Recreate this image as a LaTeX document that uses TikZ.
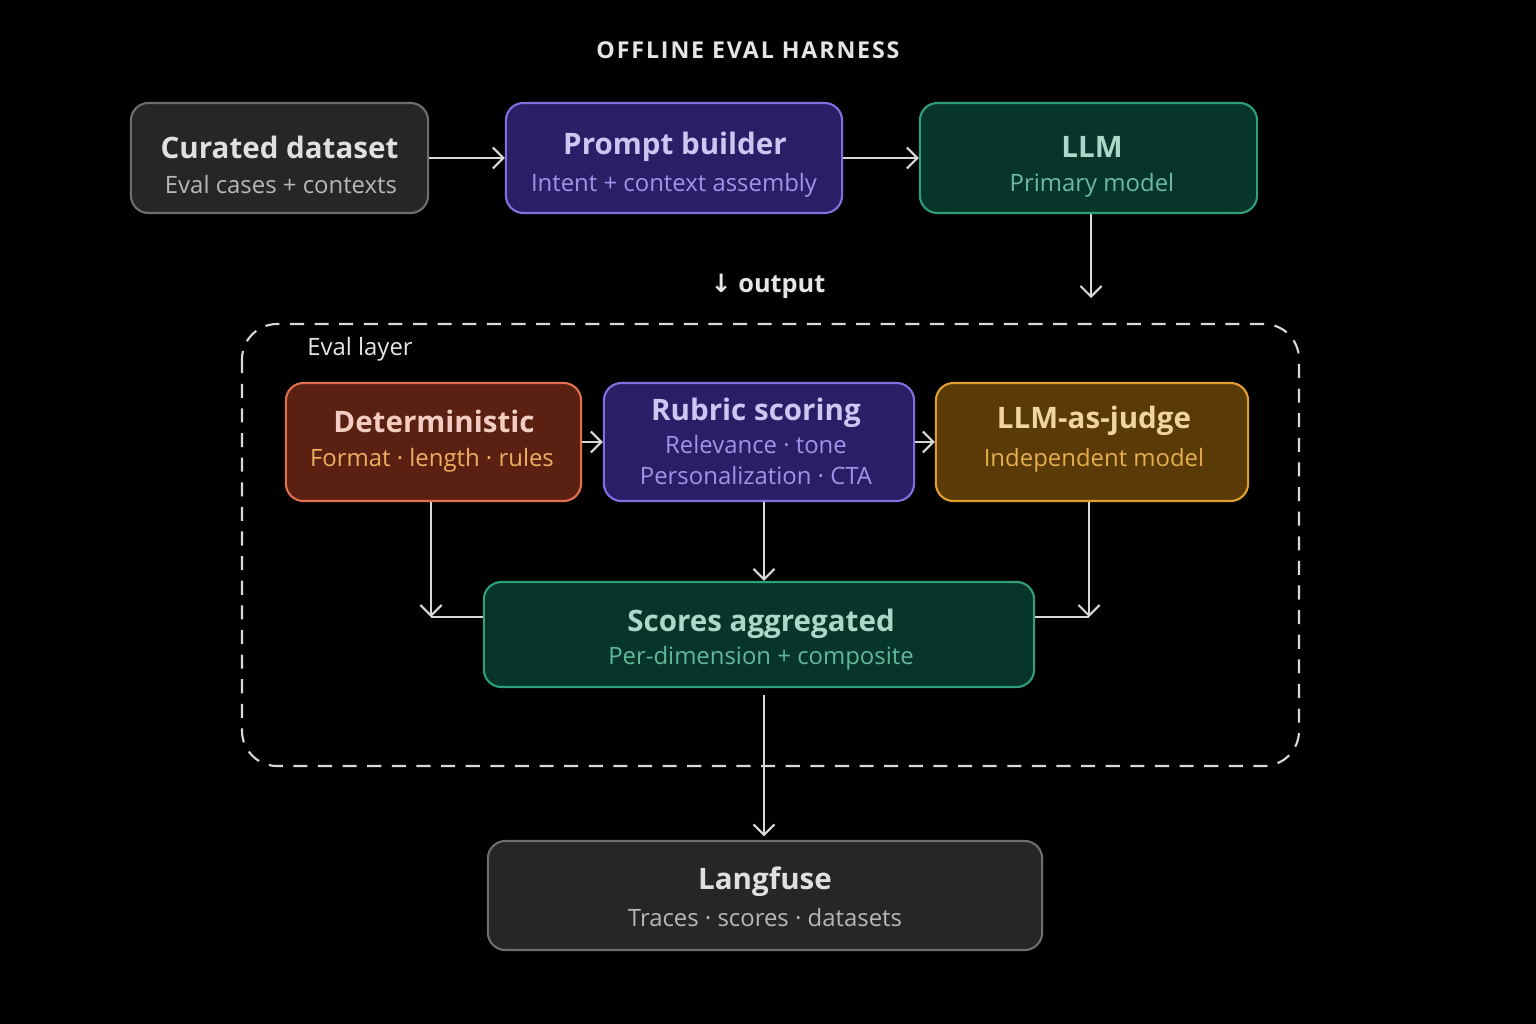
\documentclass[tikz,border=0pt]{standalone}
\usepackage{fontspec}
\setmainfont{Open Sans}
\newfontfamily\symfont{DejaVu Sans}
\newfontfamily\spacedfont[LetterSpace=8]{Open Sans}
\usetikzlibrary{arrows.meta}
\definecolor{greyfill}{HTML}{262626}
\definecolor{greyline}{HTML}{6E6E6E}
\definecolor{purpfill}{HTML}{2A1F66}
\definecolor{purpline}{HTML}{8070E0}
\definecolor{greenfill}{HTML}{07352A}
\definecolor{greenline}{HTML}{2F9F7A}
\definecolor{redfill}{HTML}{5A2012}
\definecolor{redline}{HTML}{E07050}
\definecolor{ambfill}{HTML}{5A3A06}
\definecolor{ambline}{HTML}{E0A030}
\tikzset{
  box/.style={draw, rounded corners=5pt, line width=0.6pt, align=center, inner sep=0pt},
  head/.style={font=\fontsize{8.4}{10}\selectfont\bfseries},
  sub/.style={font=\fontsize{6.8}{9}\selectfont},
  link/.style={draw=white!85!black, line width=0.6pt, -{Straight Barb[length=3pt]}},
  plain/.style={draw=white!85!black, line width=0.6pt}
}
\begin{document}
\begin{tikzpicture}[x=0.01cm, y=-0.01cm]
    \fill[black] (0,0) rectangle (1536,1024);
    \useasboundingbox (0,0) rectangle (1536,1024);

    % Title
    \node[text=white!90!black, font=\fontsize{6.6}{8}\spacedfont\bfseries] (title) at (748,50) {OFFLINE EVAL HARNESS};

    % Top row
    \node[box, fill=greyfill, draw=greyline, minimum width=2.97cm, minimum height=1.10cm] (cur) at (279.5,158) {};
    \node[head, text=white!88!black] at (279.5,147) {Curated dataset};
    \node[sub, text=white!72!black] at (281,185) {Eval cases + contexts};

    \node[box, fill=purpfill, draw=purpline, minimum width=3.36cm, minimum height=1.10cm] (prompt) at (674,158) {};
    \node[head, text=purpline!40!white] at (675,147) {Prompt builder};
    \node[sub, text=purpline!75!white] at (674,185) {Intent + context assembly};

    \node[box, fill=greenfill, draw=greenline, minimum width=3.37cm, minimum height=1.10cm] (llm) at (1088.5,158) {};
    \node[head, text=greenline!40!white] at (1092,147) {LLM};
    \node[sub, text=greenline!70!white] at (1092,185) {Primary model};

    \draw[link] (cur) -- (prompt);
    \draw[link] (prompt) -- (llm);

    \coordinate (llmout) at (1091,298);
    \draw[link] (llm.south -| llmout) -- (llmout);
    \node[text=white!90!black, font=\fontsize{7.2}{8}\selectfont\bfseries] (outlbl) at (768,286) {{\symfont ↓} output};

    % Eval layer
    \draw[white!85!black, line width=0.6pt, dash pattern=on 4pt off 3pt, rounded corners=10pt] (242,324) rectangle (1299,766);
    \node[text=white!90!black, font=\fontsize{6.8}{8}\selectfont] (evlbl) at (360,349) {Eval layer};

    \node[box, fill=redfill, draw=redline, minimum width=2.95cm, minimum height=1.18cm] (det) at (433.5,442) {};
    \node[head, text=redline!35!white] at (434,421) {Deterministic};
    \node[sub, text=redline!70!yellow!80!white] at (432,460) {Format · length · rules};

    \node[box, fill=purpfill, draw=purpline, minimum width=3.10cm, minimum height=1.18cm] (rub) at (759,442) {};
    \node[head, text=purpline!40!white] at (756,413) {Rubric scoring};
    \node[sub, text=purpline!75!white, align=center] at (756,460) {Relevance · tone\\Personalization · CTA};

    \node[box, fill=ambfill, draw=ambline, minimum width=3.12cm, minimum height=1.18cm] (judge) at (1092,442) {};
    \node[head, text=ambline!45!white] at (1094,421) {LLM-as-judge};
    \node[sub, text=ambline!85!white] at (1094,460) {Independent model};

    \draw[link] (det) -- (rub);
    \draw[link] (rub) -- (judge);

    \node[box, fill=greenfill, draw=greenline, minimum width=5.50cm, minimum height=1.05cm] (scores) at (759,634.5) {};
    \node[head, text=greenline!40!white] at (761,624) {Scores aggregated};
    \node[sub, text=greenline!75!white] at (761,658) {Per-dimension + composite};

    \coordinate (lcorner) at (431,617);
    \coordinate (rcorner) at (1089,617);
    \draw[link] (det.south -| lcorner) -- (lcorner);
    \draw[plain] (scores.west |- lcorner) -- (lcorner);
    \draw[link] (judge.south -| rcorner) -- (rcorner);
    \draw[plain] (scores.east |- rcorner) -- (rcorner);
    \draw[link] (rub.south -| 764,0) -- (scores.north -| 764,0);

    % Output store
    \node[box, fill=greyfill, draw=greyline, minimum width=5.54cm, minimum height=1.09cm] (lang) at (765,895.5) {};
    \node[head, text=white!88!black] at (765,882) {Langfuse};
    \node[sub, text=white!72!black] at (765,918) {Traces · scores · datasets};

    \draw[link] ([yshift=-2pt]scores.south -| 764,0) -- ([yshift=1pt]lang.north -| 764,0);
\end{tikzpicture}
\end{document}
